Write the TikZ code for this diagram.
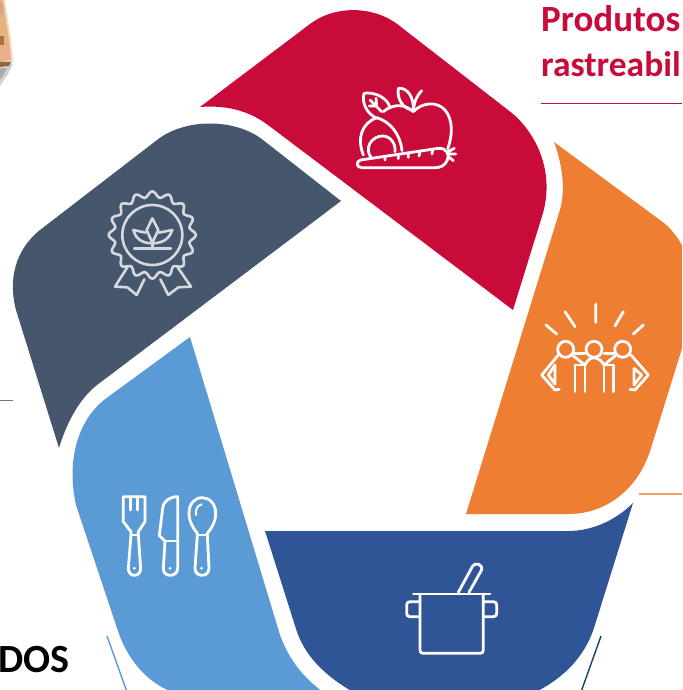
\documentclass[tikz,border=0pt]{standalone}
\usepackage{fontspec}
\setmainfont{Carlito}
\definecolor{cred}{HTML}{C90B39}
\definecolor{cdark}{HTML}{46566C}
\definecolor{corange}{HTML}{EE7E32}
\definecolor{cnavy}{HTML}{2F5597}
\definecolor{clight}{HTML}{5B9BD5}
\tikzset{
  segment/.style={draw=none},
  icon/.style={draw=white,line width=2.8pt,line cap=round,line join=round},
  medal/.style={draw=white!78!cdark,line width=2.6pt,line cap=round,line join=round},
  heading/.style={font=\fontsize{37}{44}\selectfont\bfseries,inner sep=0pt,anchor=base west},
  hairline/.style={line width=1.4pt},
  icongrid/.style={x=0.3333pt,y=-0.3333pt}
}
\begin{document}
\begin{tikzpicture}[x=1pt,y=-1pt]
\useasboundingbox (0,0) rectangle (682,690);
\clip (0,0) rectangle (682,690);
\fill[white] (0,0) rectangle (682,690);

% photo fragment
\fill[gray!35] (0,60) -- (13,64) -- (8,74) -- (0,86) -- cycle;
\fill[gray!65] (0,64) -- (8,66) -- (4,74) -- (0,80) -- cycle;
\fill[orange!25!brown!30!white] (0,0) -- (5,0) -- (7,14) -- (11,40) -- (13,62) -- (6,68) -- (0,68) -- cycle;
\fill[orange!35!brown!60!white] (0,0) -- (3,0) -- (5,14) -- (9,40) -- (11,60) -- (0,62) -- cycle;
\fill[brown!70!white,opacity=.8] (0,2) rectangle (3,14);
\fill[brown!70!black,opacity=.7] (0,36) rectangle (4,45);
\fill[brown!60!black,opacity=.8] (0,62) -- (11,62) -- (9,66) -- (0,67) -- cycle;
\fill[pink!70!brown,opacity=.8] (2,50) -- (10,52) -- (11,60) -- (3,61) -- cycle;

% light blue
\fill[clight,segment] (190,337) -- (280,635) .. controls (290,662) and (305,680) .. (330,697)
  -- (190,697) .. controls (150,690) and (127,660) .. (117,628)
  -- (76,505) .. controls (66,460) and (78,418) .. (108,397) -- cycle;
% navy
\fill[cnavy,segment] (265,531) -- (568,531) .. controls (595,531) and (618,518) .. (633,503)
  -- (594,628) .. controls (585,655) and (565,680) .. (525,697)
  -- (362,697) .. controls (330,680) and (307,660) .. (297,632) -- cycle;
% orange
\fill[corange,segment] (554,142) -- (664,223) .. controls (682,238) and (699,270) .. (694,310)
  -- (651,448) .. controls (640,485) and (610,514) .. (568,514)
  -- (466,514) -- (559,213) .. controls (567,190) and (561,160) .. (554,142) -- cycle;
% red
\fill[cred,segment] (200,107) -- (310,24) .. controls (335,5) and (375,5) .. (401,27)
  -- (508,110) .. controls (535,130) and (555,170) .. (543,213)
  -- (513,310) -- (268,125) .. controls (248,110) and (225,105) .. (200,107) -- cycle;
% dark
\fill[cdark,segment] (341,201) -- (263,140) .. controls (235,118) and (185,118) .. (157,140)
  -- (40,230) .. controls (15,250) and (8,280) .. (16,310)
  -- (59,448) .. controls (66,425) and (78,400) .. (97,385) -- cycle;

% texts
\node[heading,text=cred] (produtos) at (541,32) {Produtos};
\node[heading,text=cred,font=\fontsize{35.5}{44}\selectfont\bfseries] (rastreabil) at (541,77) {rastreabil};
\node[heading,anchor=base east,text=black,font=\fontsize{40}{44}\selectfont\bfseries] (dos) at (70,672) {DOS};

% rules
\fill[cred] (541,102.8) rectangle (682,104.2);
\draw[hairline,draw=cdark!80!white] (0,400.5) -- (13,400.5);
\draw[hairline,draw=corange!75!white] (639,494) -- (682,494);
\draw[hairline,clight] (107,636) -- (127,692);
\draw[hairline,draw=cnavy!70!black] (601,636) -- (581,692);

% fruit icon
\begin{scope}[shift={(340,80)},icongrid]
\draw[icon] (130,95) .. controls (160,70) and (195,72) .. (220,95)
  .. controls (245,68) and (290,62) .. (315,90) .. controls (340,120) and (338,165) .. (323,207);
\draw[icon] (70,225) .. controls (50,175) and (65,130) .. (110,113)
  .. controls (150,125) and (180,160) .. (186,212);
\draw[icon] (95,235) .. controls (70,205) and (95,168) .. (128,168) .. controls (150,168) and (168,190) .. (165,215);
\draw[icon] (62,240) -- (295,205) .. controls (320,203) and (330,225) .. (322,240)
  .. controls (315,258) and (300,263) .. (285,263) -- (65,263) .. controls (48,263) and (48,243) .. (62,240) -- cycle;
\draw[icon] (135,232) -- (135,240) (175,225) -- (175,236) (205,220) -- (205,232) (240,215) -- (237,228) (278,209) -- (276,222);
\draw[icon] (325,215) -- (343,205) (328,222) -- (347,222) (325,230) -- (340,242);
\draw[icon] (72,40) .. controls (100,35) and (140,50) .. (150,82) (72,40) .. controls (65,70) and (80,100) .. (110,115);
\draw[icon] (90,60) -- (125,95) (108,55) -- (110,78) (88,78) -- (110,78);
\draw[icon] (175,25) .. controls (205,22) and (222,55) .. (220,92) .. controls (190,85) and (170,60) .. (175,25) -- cycle;
\draw[icon] (220,92) .. controls (222,65) and (232,45) .. (245,32);
\end{scope}

% people icon
\begin{scope}[shift={(530,290)},icongrid]
\draw[icon] (197,42) -- (197,97) (105,65) -- (135,110) (280,65) -- (255,108) (48,105) -- (80,132) (340,105) -- (310,132);
\draw[icon] (107,178) circle[radius=8pt] (192,178) circle[radius=8pt] (278,178) circle[radius=8pt];
\draw[icon] (133,190) -- (165,190) (222,190) -- (252,190);
\draw[icon] (85,195) -- (35,255) -- (75,300) -- (88,298);
\draw[icon] (75,225) -- (55,255) -- (75,282) -- cycle;
\draw[icon] (135,305) -- (135,225) (165,305) -- (165,225) (135,225) -- (165,225);
\draw[icon] (130,198) -- (165,225) .. controls (172,210) and (180,205) .. (192,203) .. controls (205,205) and (215,212) .. (222,225) -- (255,198);
\draw[icon] (222,305) -- (222,225) -- (250,225) -- (250,305);
\draw[icon] (303,195) -- (355,255) -- (315,300) -- (300,298);
\draw[icon] (312,235) -- (335,255) -- (312,285) -- cycle;
\end{scope}

% medal icon
\begin{scope}[shift={(95,180)},icongrid]
\draw[medal] plot[smooth,domain=0:360,samples=97] ({172+(122+9*cos(16*\x))*cos(\x)},{165+(122+9*cos(16*\x))*sin(\x)}) -- cycle;
\draw[medal] (172,165) circle[radius=30pt];
\draw[medal] (172,115) -- (190,150) -- (172,188) -- (155,150) -- cycle;
\draw[medal] (115,150) -- (152,158) (115,150) .. controls (120,170) and (135,190) .. (172,190);
\draw[medal] (232,150) -- (192,158) (232,150) .. controls (225,170) and (210,190) .. (172,190);
\draw[medal] (118,205) -- (228,205) (172,190) -- (172,205);
\draw[medal] (97,262) -- (60,320) -- (97,322) -- (125,345) -- (148,298);
\draw[medal] (248,262) -- (288,320) -- (250,322) -- (220,345) -- (196,298);
\end{scope}

% cutlery icon
\begin{scope}[shift={(110,485)},icongrid]
\draw[icon] (40,35) -- (105,35) -- (105,110) -- (85,140) -- (85,150) -- (92,250)
  .. controls (92,278) and (55,278) .. (55,250) -- (63,150) -- (63,140) -- (40,110) -- cycle;
\draw[icon] (63,150) -- (85,150) (62,35) -- (62,75) (82,35) -- (82,75);
\fill[white] (73,250) circle[radius=1.5pt];
\draw[icon] (203,35) -- (203,250) .. controls (203,278) and (158,278) .. (160,250) -- (165,168) -- (148,152) -- (158,70)
  .. controls (160,48) and (180,35) .. (203,35) -- cycle;
\draw[icon] (165,168) -- (203,168);
\fill[white] (180,250) circle[radius=1.5pt];
\draw[icon] (262,150) -- (255,250) .. controls (255,278) and (297,278) .. (297,250) -- (292,150)
  -- (292,145) .. controls (305,130) and (317,110) .. (317,85) .. controls (317,55) and (297,38) .. (277,38)
  .. controls (255,38) and (237,55) .. (237,85) .. controls (237,110) and (250,130) .. (262,145) -- cycle;
\draw[icon] (262,150) -- (292,150);
\draw[icon,line width=2pt] (258,90) .. controls (256,72) and (262,62) .. (275,58);
\fill[white] (275,250) circle[radius=1.5pt];
\end{scope}

% pot icon
\begin{scope}[shift={(395,555)},icongrid]
\draw[icon] (55,117) -- (285,117);
\draw[icon] (75,117) -- (75,285) .. controls (75,292) and (78,295) .. (85,295) -- (255,295) .. controls (262,295) and (265,292) .. (265,285) -- (265,117);
\draw[icon] (75,140) -- (45,140) .. controls (38,140) and (35,144) .. (35,150) -- (35,175) .. controls (35,181) and (38,185) .. (45,185) -- (75,185);
\draw[icon] (265,140) -- (295,140) .. controls (302,140) and (305,144) .. (305,150) -- (305,175) .. controls (305,181) and (302,185) .. (295,185) -- (265,185);
\draw[icon] (190,112) -- (232,35) .. controls (242,18) and (268,30) .. (258,48) -- (222,112);
\end{scope}
\end{tikzpicture}
\end{document}
